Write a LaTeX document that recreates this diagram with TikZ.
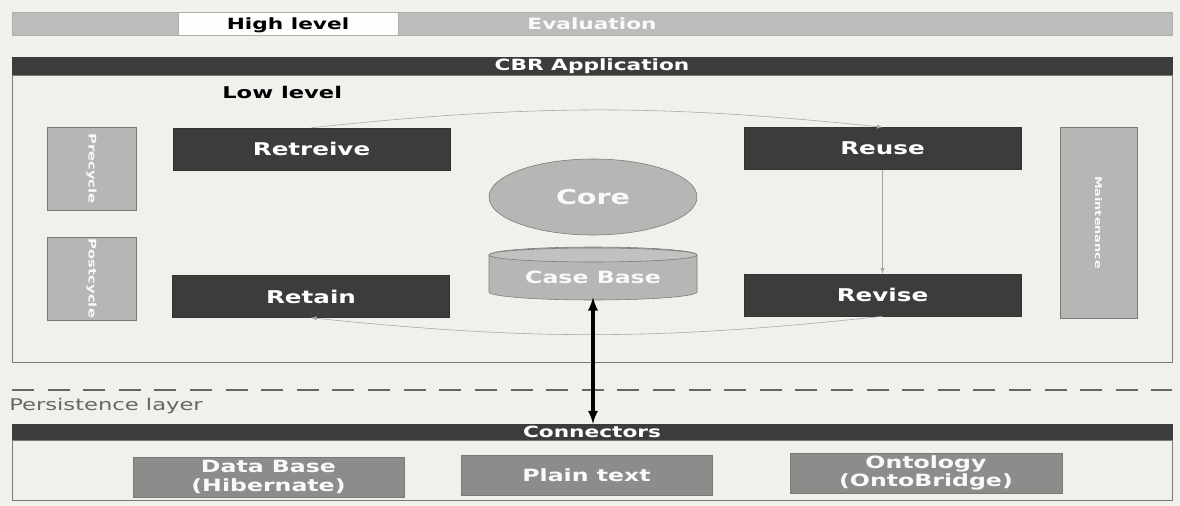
\documentclass[tikz,border=0pt]{standalone}
\usepackage{fontspec}
\setmainfont{DejaVu Sans}[FakeStretch=1.4]
\usetikzlibrary{positioning,shapes.geometric}

\definecolor{paper}{RGB}{240,240,236}
\definecolor{darkbox}{RGB}{60,60,58}
\definecolor{bargray}{RGB}{188,188,186}
\definecolor{sidegray}{RGB}{182,182,180}
\definecolor{midgray}{RGB}{140,140,138}
\definecolor{linegray}{RGB}{120,120,118}

\tikzset{
  bar/.style={fill=bargray,draw=linegray!60,minimum height=0.575cm,inner sep=0pt,outer sep=0pt},
  header/.style={fill=darkbox,draw=darkbox,text=white,font=\bfseries\fontsize{11}{12}\selectfont,
    minimum width=29cm,inner sep=0pt,outer sep=0pt},
  phase/.style={fill=darkbox,draw=black!80,text=white,font=\bfseries\fontsize{12.5}{14}\selectfont,
    minimum width=6.93cm,minimum height=1.05cm,inner sep=0pt},
  side/.style={fill=sidegray,draw=linegray,text=white!92!sidegray,rotate=-90,
    font=\bfseries\fontsize{7.5}{8}\selectfont,inner sep=0pt},
  connbox/.style={fill=midgray,draw=linegray,text=white!95!midgray,align=center,
    font=\bfseries\fontsize{12}{13}\selectfont,minimum height=1cm,inner sep=0pt},
  cycle/.style={draw=black!35,thin,-latex},
}

\begin{document}
\begin{tikzpicture}[x=0.025cm,y=-0.025cm]
  \fill[paper] (0,0) rectangle (1180,506);
  \useasboundingbox (0,0) rectangle (1180,506);

  % high level
  \node[bar,minimum width=29cm,text=white!92!bargray,font=\bfseries\fontsize{11}{12}\selectfont] (eval) at (592,23.5) {Evaluation};
  \node[bar,fill=white!92!paper,minimum width=5.5cm,text depth=0pt,font=\bfseries\fontsize{11}{12}\selectfont] (high) at (288,23.5) {High level};

  % CBR application
  \node[header,minimum height=0.45cm] (cbr) at (592,66) {CBR Application};
  \draw[linegray] (cbr.south west) rectangle (1172,362);
  \node[font=\bfseries\fontsize{11.5}{13}\selectfont,anchor=west,inner sep=0pt] (low) at (222,92) {Low level};

  \node[phase] (retreive) at (311.5,149) {Retreive};
  \node[phase] (reuse) at (882.5,148.5) {Reuse};
  \node[phase] (retain) at (311,296.5) {Retain};
  \node[phase] (revise) at (882.5,295) {Revise};

  \node[side,minimum width=2.08cm,minimum height=2.23cm] (pre) at (91.5,168.5) {Precycle};
  \node[side,minimum width=2.08cm,minimum height=2.23cm] (post) at (91.5,278.5) {Postcycle};
  \node[side,minimum width=4.78cm,minimum height=1.93cm,font=\bfseries\fontsize{6.5}{7}\selectfont] (maint) at (1098.5,222.5) {Maintenance};

  \node[ellipse,fill=sidegray,draw=linegray,text=white!92!sidegray,font=\bfseries\fontsize{14.5}{16}\selectfont,
    minimum width=5.2cm,minimum height=1.9cm,inner sep=0pt] (core) at (593,197) {Core};

  % case base
  \fill[sidegray,draw=linegray] (489,255) -- (489,292) arc[start angle=180,end angle=0,x radius=104,y radius=8]
    -- (697,255) arc[start angle=0,end angle=-180,x radius=104,y radius=8] -- cycle;
  \draw[linegray,fill=sidegray!85!white] (593,255) ellipse[x radius=104,y radius=7];
  \node[text=white!92!sidegray,font=\bfseries\fontsize{12}{13}\selectfont,minimum width=5.2cm,
    minimum height=1cm,inner sep=0pt] (casebase) at (593,277) {Case Base};

  % cycle
  \draw[cycle] (retreive.north) to[bend left=6] (reuse.north);
  \draw[cycle] (reuse.south) -- (revise.north);
  \draw[cycle] (revise.south) to[bend left=6] (retain.south);

  % persistence layer
  \draw[black!60,line width=1.3pt,dash pattern=on 5.5mm off 3.4mm] (12,390) coordinate (d1) -- (1172,390) coordinate (d2);
  \node[anchor=west,text=black!60,font=\fontsize{11.5}{13}\selectfont,inner sep=0pt] (persist) at (9,406) {Persistence layer};

  \node[header,minimum height=0.4cm] (conn) at (592,432) {Connectors};
  \draw[linegray] (conn.south west) rectangle (1172,500);

  \node[connbox,minimum width=6.78cm] (db) at (268.5,477) {Data Base\\(Hibernate)};
  \node[connbox,minimum width=6.28cm] (plain) at (586.5,475) {Plain text};
  \node[connbox,minimum width=6.8cm] (onto) at (926,473) {Ontology\\(OntoBridge)};

  \draw[black,line width=2.2pt,latex-latex] (casebase.south) -- (casebase.south |- conn.north);
\end{tikzpicture}
\end{document}
